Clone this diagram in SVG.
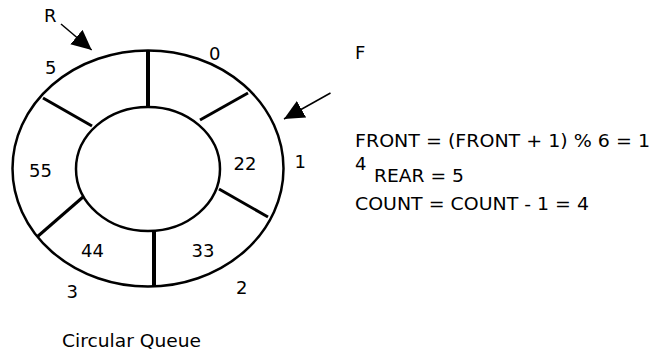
<svg xmlns="http://www.w3.org/2000/svg" width="653" height="356" viewBox="0 0 653 356">
  <style>
    text { font-family: "DejaVu Sans", Verdana, sans-serif; font-size: 18px; fill: #000; }
    .ring { fill: none; stroke: #000; stroke-width: 2.5; }
    .div { stroke: #000; stroke-width: 3; stroke-linecap: butt; }
    .vdiv { stroke: #000; stroke-width: 4; }
    .arrow { stroke: #000; stroke-width: 1.5; fill: none; }
  </style>
  <defs>
    <marker id="head" markerUnits="userSpaceOnUse" markerWidth="20" markerHeight="20" viewBox="0 0 18 17" refX="18" refY="8.5" orient="auto">
      <path d="M0,0 L18,8.5 L0,17 z" fill="#000"/>
    </marker>
  </defs>
  <rect width="653" height="356" fill="#fff"/>

  <g id="queue">
    <ellipse class="ring" cx="148" cy="168.5" rx="135.5" ry="118"/>
    <ellipse class="ring" cx="148" cy="169" rx="72" ry="62"/>
    <line class="vdiv" x1="148" y1="50" x2="148" y2="107"/>
    <line class="div" x1="248" y1="93" x2="200" y2="120"/>
    <line class="div" x1="43" y1="98" x2="92" y2="126"/>
    <line class="div" x1="219" y1="189" x2="268" y2="217"/>
    <line class="div" x1="83" y1="197" x2="37" y2="237"/>
    <line class="vdiv" x1="154" y1="231" x2="154" y2="287"/>
  </g>

  <g id="cells">
    <text x="209" y="60">0</text>
    <text x="233.5" y="170">22</text>
    <text x="191.5" y="256.7">33</text>
    <text x="81" y="256.7">44</text>
    <text x="29" y="176.7">55</text>
  </g>

  <g id="indices">
    <text x="294.5" y="168.3">1</text>
    <text x="236" y="294">2</text>
    <text x="66.5" y="298.3">3</text>
    <text x="45" y="74.3">5</text>
  </g>

  <g id="connectors">
    <line class="arrow" x1="61" y1="24" x2="91.7" y2="50" marker-end="url(#head)"/>
    <line class="arrow" x1="330.5" y1="93" x2="284" y2="119" marker-end="url(#head)"/>
  </g>

  <g id="labels">
    <text x="44" y="22">R</text>
    <text x="355" y="59">F</text>
    <text x="355" y="146.5" textLength="295" lengthAdjust="spacingAndGlyphs">FRONT = (FRONT + 1) % 6 = 1</text>
    <text x="355" y="170">4</text>
    <text x="374" y="182" textLength="90" lengthAdjust="spacingAndGlyphs">REAR = 5</text>
    <text x="355" y="210" textLength="234" lengthAdjust="spacingAndGlyphs">COUNT = COUNT - 1 = 4</text>
    <text x="62" y="346.7" textLength="139" lengthAdjust="spacingAndGlyphs">Circular Queue</text>
  </g>
</svg>
